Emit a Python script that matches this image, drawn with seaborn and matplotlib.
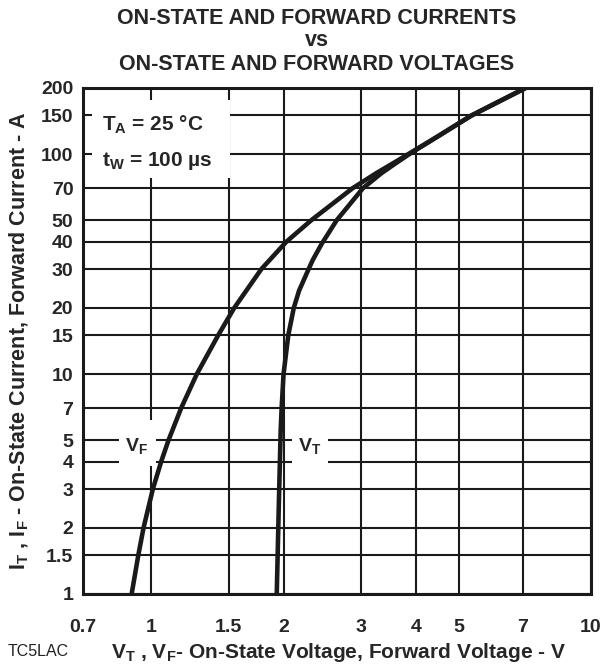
import matplotlib
matplotlib.use('Agg')
import pandas as pd
import matplotlib.pyplot as plt
import seaborn as sns
from matplotlib.patches import Rectangle
from matplotlib.ticker import NullLocator

# values (log-log)
vf_current = [1, 1.5, 2, 3, 4, 5, 7, 10, 15, 20, 30, 40, 50, 70, 82, 91, 100, 122, 150, 200]
vf_voltage = [0.903, 0.935, 0.961, 1.009, 1.054, 1.095, 1.17, 1.27, 1.42, 1.545, 1.78, 2.03,
              2.31, 2.87, 3.25, 3.55, 3.84, 4.53, 5.35, 7.1]

vt_current = [1, 3, 5.5, 7, 10, 15, 20, 24, 30, 33, 39, 50, 70, 82, 91, 100, 122, 150, 200]
vt_voltage = [1.93, 1.955, 1.97, 1.98, 2.0, 2.05, 2.11, 2.17, 2.28, 2.33, 2.44, 2.64, 3.03,
              3.34, 3.60, 3.86, 4.53, 5.35, 7.1]

x_ticks = [0.7, 1, 1.5, 2, 3, 4, 5, 7, 10]
x_labels = ['0.7', '1', '1.5', '2', '3', '4', '5', '7', '10']
y_ticks = [1, 1.5, 2, 3, 4, 5, 7, 10, 15, 20, 30, 40, 50, 70, 100, 150, 200]
y_labels = ['1', '1.5', '2', '3', '4', '5', '7', '10', '15', '20', '30', '40', '50', '70', '100', '150', '200']

sns.set_style('white')
plt.rcParams['font.family'] = ['Liberation Sans', 'DejaVu Sans']
plt.rcParams['font.weight'] = 'bold'
plt.rcParams['mathtext.fontset'] = 'custom'
plt.rcParams['mathtext.rm'] = 'Liberation Sans:bold'
plt.rcParams['mathtext.bf'] = 'Liberation Sans:bold'
plt.rcParams['mathtext.it'] = 'Liberation Sans:bold'

ink = '#1a1a1a'

df_f = pd.DataFrame({'V': vf_voltage, 'I': vf_current})
df_t = pd.DataFrame({'V': vt_voltage, 'I': vt_current})

fig = plt.figure(figsize=(6.07, 6.66), dpi=100)
ax = fig.add_axes([83 / 607, 72 / 666, 508 / 607, 506 / 666])

for d in (df_f, df_t):
    sns.lineplot(data=d, x='V', y='I', ax=ax, color=ink, linewidth=3.3,
                 sort=False, estimator=None, legend=False, zorder=4)

ax.set_xscale('log')
ax.set_yscale('log')
ax.set_xlim(0.7, 10)
ax.set_ylim(1, 200)
ax.set_xticks(x_ticks)
ax.set_xticklabels(x_labels)
ax.set_yticks(y_ticks)
ax.set_yticklabels(y_labels)
ax.xaxis.set_minor_locator(NullLocator())
ax.yaxis.set_minor_locator(NullLocator())
ax.tick_params(length=0, labelsize=14)
ax.tick_params(axis='x', pad=18)
ax.tick_params(axis='y', pad=7)
for lab in ax.get_xticklabels() + ax.get_yticklabels():
    lab.set_fontweight('bold')

ax.set_axisbelow(True)
ax.grid(True, color=ink, linewidth=1.5)
for s in ax.spines.values():
    s.set_color(ink)
    s.set_linewidth(2.2)

ax.set_xlabel('')
ax.set_ylabel('')

# white boxes that cut the grid behind the annotations
for x0, x1, y0, y1 in [(92, 230, 100, 178), (119, 156, 420, 466), (292, 328, 420, 466)]:
    ax.add_patch(Rectangle(((x0 - 83) / 508, (594 - y1) / 506), (x1 - x0) / 508, (y1 - y0) / 506,
                           transform=ax.transAxes, facecolor='white', edgecolor='none', zorder=1))

ax.text(0.928, 4.7, r'$\mathregular{V_F}$', ha='center', va='center', fontsize=14, zorder=3)
ax.text(2.296, 4.7, r'$\mathregular{V_T}$', ha='center', va='center', fontsize=14, zorder=3)

ax.text(0.773, 136, r'$\mathregular{T_A}$ = 25 °C', ha='left', va='center', fontsize=15, zorder=3)
ax.text(0.773, 93, r'$\mathregular{t_W}$ = 100 µs', ha='left', va='center', fontsize=15, zorder=3)

# titles and axis labels
fig.text(317 / 607, 1 - 18 / 666, 'ON-STATE AND FORWARD CURRENTS', ha='center', va='center',
         fontsize=15.5, fontweight='bold')
fig.text(317 / 607, 1 - 41 / 666, 'vs', ha='center', va='center', fontsize=15.5, fontweight='bold')
fig.text(317 / 607, 1 - 65 / 666, 'ON-STATE AND FORWARD VOLTAGES', ha='center', va='center',
         fontsize=15.5, fontweight='bold')
fig.text(338 / 607, 1 - 652 / 666,
         r'$\mathregular{V_T}$ , $\mathregular{V_F}$- On-State Voltage, Forward Voltage - V',
         ha='center', va='center', fontsize=15, fontweight='bold')
fig.text(19 / 607, 1 - 341 / 666,
         r'$\mathregular{I_T}$ , $\mathregular{I_F}$ - On-State Current, Forward Current - A',
         ha='center', va='center', rotation=90, fontsize=15.5, fontweight='bold')
fig.text(8 / 607, 1 - 652 / 666, 'TC5LAC', ha='left', va='center', fontsize=11.5,
         fontweight='normal', color='#222222')

fig.savefig('out.png', dpi=100)
